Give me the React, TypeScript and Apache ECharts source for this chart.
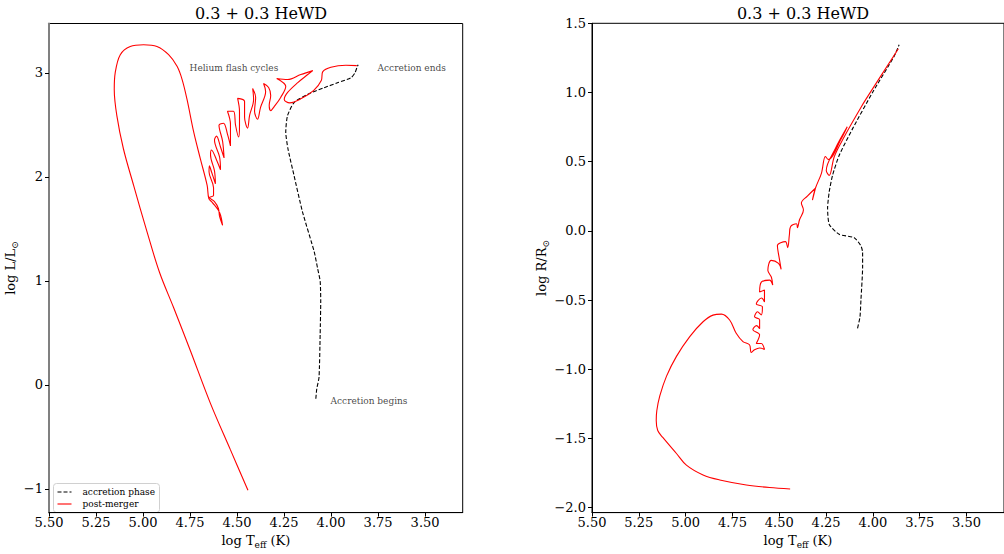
import React, { useEffect, useRef } from 'react';
import * as echarts from 'echarts';

const FONT = 'DejaVu Serif';
const TITLE = '0.3 + 0.3 HeWD';

const teffTicks = [5.5, 5.25, 5.0, 4.75, 4.5, 4.25, 4.0, 3.75, 3.5];
const lumTicks = [-1, 0, 1, 2, 3];
const radTicks = [-2.0, -1.5, -1.0, -0.5, 0.0, 0.5, 1.0, 1.5];
const legendNames = ['accretion phase', 'post-merger'];

// log Teff, log L  (accretion phase, from begin to end)
const hrAccretion: [number, number][] = [
  [4.081, -0.134], [4.076, -0.038], [4.064, 0.073], [4.058, 0.487], [4.055, 0.808],
  [4.058, 0.996], [4.072, 1.123], [4.09, 1.282], [4.152, 1.664], [4.197, 2.013],
  [4.229, 2.268], [4.241, 2.43], [4.232, 2.586], [4.197, 2.714], [4.126, 2.793],
  [4.037, 2.857], [3.966, 2.905], [3.895, 2.952], [3.873, 3.0], [3.863, 3.048], [3.856, 3.079],
];

// log Teff, log L  (post-merger)
const hrPostMerger: [number, number][] = [
  [3.863, 3.07], [3.921, 3.074], [4.001, 3.055], [4.044, 3.012], [4.052, 2.927],
  [4.092, 2.831], [4.156, 2.755], [4.22, 2.712], [4.249, 2.745], [4.231, 2.812],
  [4.177, 2.907], [4.124, 2.984], [4.097, 3.022], [4.161, 2.984], [4.231, 2.936],
  [4.289, 2.946], [4.241, 2.869], [4.268, 2.764], [4.305, 2.669], [4.321, 2.636],
  [4.329, 2.688], [4.321, 2.783], [4.332, 2.86], [4.359, 2.898],
  [4.348, 2.822], [4.375, 2.669], [4.391, 2.554], [4.407, 2.631],
  [4.401, 2.764], [4.417, 2.85], [4.412, 2.745], [4.433, 2.593], [4.444, 2.469],
  [4.46, 2.573], [4.46, 2.726], [4.497, 2.755], [4.487, 2.631], [4.487, 2.488],
  [4.492, 2.383], [4.508, 2.497], [4.519, 2.631], [4.551, 2.631], [4.535, 2.507],
  [4.535, 2.297], [4.551, 2.411], [4.572, 2.516], [4.596, 2.497], [4.577, 2.344],
  [4.569, 2.182], [4.588, 2.287], [4.609, 2.392], [4.62, 2.354], [4.593, 2.192],
  [4.588, 2.068], [4.609, 2.163], [4.636, 2.259], [4.641, 2.211], [4.62, 2.058],
  [4.615, 1.934], [4.636, 2.049], [4.647, 2.106], [4.649, 2.049], [4.625, 1.896],
  [4.625, 1.82], [4.647, 1.801], [4.62, 1.762], [4.599, 1.696], [4.593, 1.619],
  [4.577, 1.533], [4.593, 1.657], [4.631, 1.753], [4.65, 1.791],
  [4.659, 1.918], [4.695, 2.173], [4.73, 2.427], [4.766, 2.745], [4.792, 2.936],
  [4.819, 3.063], [4.864, 3.175], [4.926, 3.254], [4.997, 3.27], [5.068, 3.254],
  [5.121, 3.175], [5.148, 3.0], [5.153, 2.841], [5.139, 2.586], [5.104, 2.268],
  [5.05, 1.918], [4.979, 1.473], [4.912, 1.08], [4.837, 0.741], [4.748, 0.328],
  [4.641, -0.181], [4.535, -0.626], [4.442, -1.014],
];

// log Teff, log R  (accretion phase)
const radAccretion: [number, number][] = [
  [4.082, -0.704], [4.069, -0.621], [4.064, -0.501], [4.055, -0.263], [4.055, -0.156],
  [4.064, -0.108], [4.1, -0.049], [4.18, -0.025], [4.233, 0.046], [4.242, 0.165],
  [4.233, 0.285], [4.215, 0.404], [4.18, 0.546], [4.109, 0.737], [4.002, 1.0],
  [3.887, 1.261], [3.86, 1.345],
];

// log Teff, log R  (post-merger)
const radPostMerger: [number, number][] = [
  [3.864, 1.316], [4.037, 0.952], [4.064, 0.892], [4.153, 0.68], [4.206, 0.537],
  [4.233, 0.401], [4.249, 0.437], [4.201, 0.594], [4.137, 0.752], [4.169, 0.666],
  [4.238, 0.516], [4.254, 0.537], [4.275, 0.416], [4.307, 0.308], [4.323, 0.223],
  [4.307, 0.308], [4.35, 0.251], [4.382, 0.201], [4.371, 0.151], [4.392, 0.08],
  [4.403, 0.022], [4.408, 0.051], [4.44, 0.03], [4.446, -0.028], [4.455, -0.121],
  [4.467, -0.078], [4.51, -0.106], [4.499, -0.206], [4.49, -0.278], [4.504, -0.235],
  [4.543, -0.213], [4.561, -0.285], [4.542, -0.335], [4.535, -0.392], [4.552, -0.356],
  [4.596, -0.371], [4.605, -0.442], [4.579, -0.428], [4.579, -0.514], [4.595, -0.485],
  [4.623, -0.528], [4.59, -0.549], [4.596, -0.607], [4.616, -0.585], [4.632, -0.621],
  [4.605, -0.642], [4.605, -0.707], [4.621, -0.685], [4.641, -0.714], [4.605, -0.75],
  [4.623, -0.814], [4.596, -0.814], [4.579, -0.857], [4.605, -0.847], [4.632, -0.859],
  [4.65, -0.878], [4.659, -0.823], [4.694, -0.8], [4.73, -0.74], [4.765, -0.644],
  [4.809, -0.602], [4.854, -0.609], [4.907, -0.657], [4.978, -0.764], [5.049, -0.907],
  [5.102, -1.05], [5.138, -1.193], [5.154, -1.3], [5.157, -1.371], [5.149, -1.443],
  [5.122, -1.493], [5.049, -1.609], [4.996, -1.693], [4.907, -1.764], [4.818, -1.8],
  [4.676, -1.836], [4.552, -1.855], [4.442, -1.865],
];

const annotationTexts = ['Helium flash cycles', 'Accretion ends', 'Accretion begins'];
const annotationPoints: [number, number][] = [[4.75, 3.0], [3.75, 3.0], [4.0, -0.2]];

const minus = (s: string) => s.replace('-', '\u2212');

function App() {
  const ref = useRef<HTMLDivElement>(null);
  useEffect(() => {
    if (!ref.current) return;
    const chart = echarts.init(ref.current, null, { renderer: 'svg' });
    const axisNameRich = {
      n: { fontSize: 13, fontFamily: FONT, color: '#000', lineHeight: 18, verticalAlign: 'middle' },
      s: { fontSize: 9, fontFamily: FONT, color: '#000', lineHeight: 18, verticalAlign: 'bottom' },
    };
    const xAxisCommon = (gridIndex: number) => ({
      type: 'value',
      gridIndex,
      inverse: true,
      min: 3.3,
      max: 5.5,
      name: '{n|log T}{s|eff}{n| (K)}',
      nameLocation: 'middle',
      nameGap: 17,
      nameTextStyle: { rich: axisNameRich },
      axisLine: { show: true, onZero: false, lineStyle: { color: '#000', width: 1 } },
      axisTick: { show: true, length: 4, customValues: teffTicks, lineStyle: { color: '#000' } },
      axisLabel: {
        show: true, customValues: teffTicks, margin: 3, fontSize: 13, fontFamily: FONT, color: '#000',
        formatter: (v: number) => v.toFixed(2),
      },
      splitLine: { show: false },
    });
    const labelCommon = { fontSize: 13, fontFamily: FONT, color: '#000', margin: 6 };
    const lineSeries = (name: string, xi: number, data: [number, number][], dashed: boolean) => ({
      name, type: 'line', xAxisIndex: xi, yAxisIndex: xi, data,
      symbol: 'none', silent: true, smooth: dashed ? 0.2 : 0.35,
      lineStyle: dashed ? { color: '#000', width: 1.1, type: [4, 2] } : { color: '#ff0000', width: 1.1 },
      itemStyle: { color: dashed ? '#000' : '#ff0000' },
    });
    chart.setOption({
      animation: false,
      backgroundColor: '#fff',
      title: [
        { text: TITLE, left: 256, top: 0, textAlign: 'center', textStyle: { fontSize: 16, fontWeight: 'normal', fontFamily: FONT, color: '#000' } },
        { text: TITLE, left: 798, top: 0, textAlign: 'center', textStyle: { fontSize: 16, fontWeight: 'normal', fontFamily: FONT, color: '#000' } },
      ],
      grid: [
        { left: 49, top: 23.5, width: 413.7, height: 493.2, show: true, borderColor: '#000', borderWidth: 1, backgroundColor: 'transparent' },
        { left: 592, top: 23.3, width: 413, height: 493.4, show: true, borderColor: '#000', borderWidth: 1, backgroundColor: 'transparent' },
      ],
      graphic: [
        {
          type: 'group', left: 53, top: 483, z: 100,
          children: [
            { type: 'rect', shape: { x: 0, y: 0, width: 106, height: 29, r: 3 }, style: { fill: 'rgba(255,255,255,0.85)', stroke: '#d0d0d0', lineWidth: 1 } },
            { type: 'line', shape: { x1: 4, y1: 8.5, x2: 18, y2: 8.5 }, style: { stroke: '#000', lineWidth: 1.1, lineDash: [4, 2] } },
            { type: 'line', shape: { x1: 4, y1: 20.5, x2: 18, y2: 20.5 }, style: { stroke: '#ff0000', lineWidth: 1.1 } },
            { type: 'text', x: 29, y: 8.5, style: { text: legendNames[0], font: `9px "${FONT}"`, fill: '#000', verticalAlign: 'middle' } },
            { type: 'text', x: 29, y: 20.5, style: { text: legendNames[1], font: `9px "${FONT}"`, fill: '#000', verticalAlign: 'middle' } },
          ],
        },
      ],
      xAxis: [xAxisCommon(0), xAxisCommon(1)],
      yAxis: [
        {
          type: 'value', gridIndex: 0, min: -1.229, max: 3.475,
          name: '{n|log L/L}{s|\u2299}', nameLocation: 'middle', nameRotate: 90, nameGap: 28,
          nameTextStyle: { rich: axisNameRich },
          axisLine: { show: true, onZero: false, lineStyle: { color: '#808080', width: 2 } },
          axisTick: { show: true, length: 4, customValues: lumTicks, lineStyle: { color: '#000' } },
          axisLabel: { ...labelCommon, customValues: lumTicks, formatter: (v: number) => minus(String(v)) },
          splitLine: { show: false },
        },
        {
          type: 'value', gridIndex: 1, min: -2.036, max: 1.5,
          name: '{n|log R/R}{s|\u2299}', nameLocation: 'middle', nameRotate: 90, nameGap: 40,
          nameTextStyle: { rich: axisNameRich },
          axisLine: { show: true, onZero: false, lineStyle: { color: '#000', width: 1 } },
          axisTick: { show: true, length: 4, customValues: radTicks, lineStyle: { color: '#000' } },
          axisLabel: { ...labelCommon, customValues: radTicks, formatter: (v: number) => minus(v.toFixed(1)) },
          splitLine: { show: false },
        },
      ],
      series: [
        lineSeries(legendNames[0], 0, hrAccretion, true),
        lineSeries(legendNames[1], 0, hrPostMerger, false),
        lineSeries(legendNames[0], 1, radAccretion, true),
        lineSeries(legendNames[1], 1, radPostMerger, false),
        {
          name: 'annotations', type: 'scatter', xAxisIndex: 0, yAxisIndex: 0, silent: true,
          symbolSize: 1, itemStyle: { color: 'rgba(0,0,0,0)' },
          data: annotationPoints.map((p, i) => ({ value: p, name: annotationTexts[i] })),
          label: {
            show: true, position: [0, 0], align: 'left', verticalAlign: 'bottom',
            formatter: '{b}', fontSize: 9, fontFamily: FONT, color: '#111',
          },
        },
      ],
    });
    return () => chart.dispose();
  }, []);
  return <div ref={ref} style={{ position: 'fixed', left: 0, top: 0, width: 1004, height: 554 }} />;
}

export default App;
